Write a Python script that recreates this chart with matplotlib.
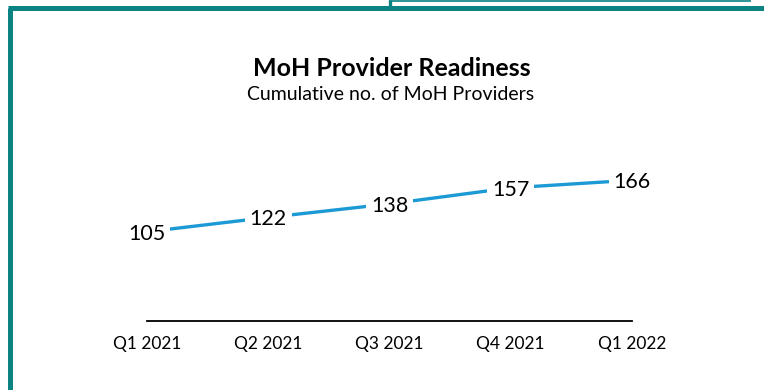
import matplotlib
matplotlib.use("Agg")
import matplotlib.pyplot as plt
from matplotlib.lines import Line2D

plt.rcParams['font.family'] = ['Lato', 'DejaVu Sans']

quarters = ["Q1 2021", "Q2 2021", "Q3 2021", "Q4 2021", "Q1 2022"]
providers = [105, 122, 138, 157, 166]

title = "MoH Provider Readiness"
subtitle = "Cumulative no. of MoH Providers"

W, H = 764, 390
fig = plt.figure(figsize=(W / 100, H / 100), dpi=100)
fig.patch.set_facecolor("white")

# plot area in pixel terms
px_left, px_right, px_bottom, px_top = 147, 632, 320.5, 151.5
ax = fig.add_axes([px_left / W, (H - px_bottom) / H,
                   (px_right - px_left) / W, (px_bottom - px_top) / H])
x = list(range(len(quarters)))
ax.plot(x, providers, color="#1C9AD6", lw=2.4, solid_capstyle="butt", zorder=2)
for xi, v in zip(x, providers):
    ax.text(xi, v, str(v), ha="center", va="center_baseline", fontsize=15.5,
            color="black", zorder=3,
            bbox=dict(boxstyle="square,pad=0.22", fc="white", ec="none"))
ax.set_xlim(0, len(quarters) - 1)
ax.set_ylim(0, 200)
ax.set_xticks(x)
ax.set_xticklabels(quarters, fontsize=12.5)
ax.tick_params(axis="x", length=0, pad=11)
ax.set_yticks([])
for side in ("left", "right", "top"):
    ax.spines[side].set_visible(False)
ax.spines["bottom"].set_color("black")
ax.spines["bottom"].set_linewidth(1.3)
ax.patch.set_alpha(0)

fig.text(392 / W, (H - 76) / H, title, ha="center", va="baseline",
         fontsize=18, fontweight="bold", color="black")
fig.text(390.5 / W, (H - 100) / H, subtitle, ha="center", va="baseline",
         fontsize=14, color="black")

# teal panel frame
frame = fig.add_axes([0, 0, 1, 1], zorder=-1)
frame.set_xlim(0, W)
frame.set_ylim(H, 0)
frame.axis("off")
teal = "#0B8383"
frame.add_line(Line2D([9.5, 9.5], [7.5, H], color=teal, lw=3.6, solid_capstyle="butt"))
frame.add_line(Line2D([7.5, W], [7.5, 7.5], color=teal, lw=3.6, solid_capstyle="butt"))
frame.add_line(Line2D([390, 390], [0, 6], color=teal, lw=2.4, solid_capstyle="butt"))
frame.add_line(Line2D([389, 751], [0.6, 0.6], color=teal, lw=1.2, solid_capstyle="butt"))

fig.savefig("out.png", dpi=100)
